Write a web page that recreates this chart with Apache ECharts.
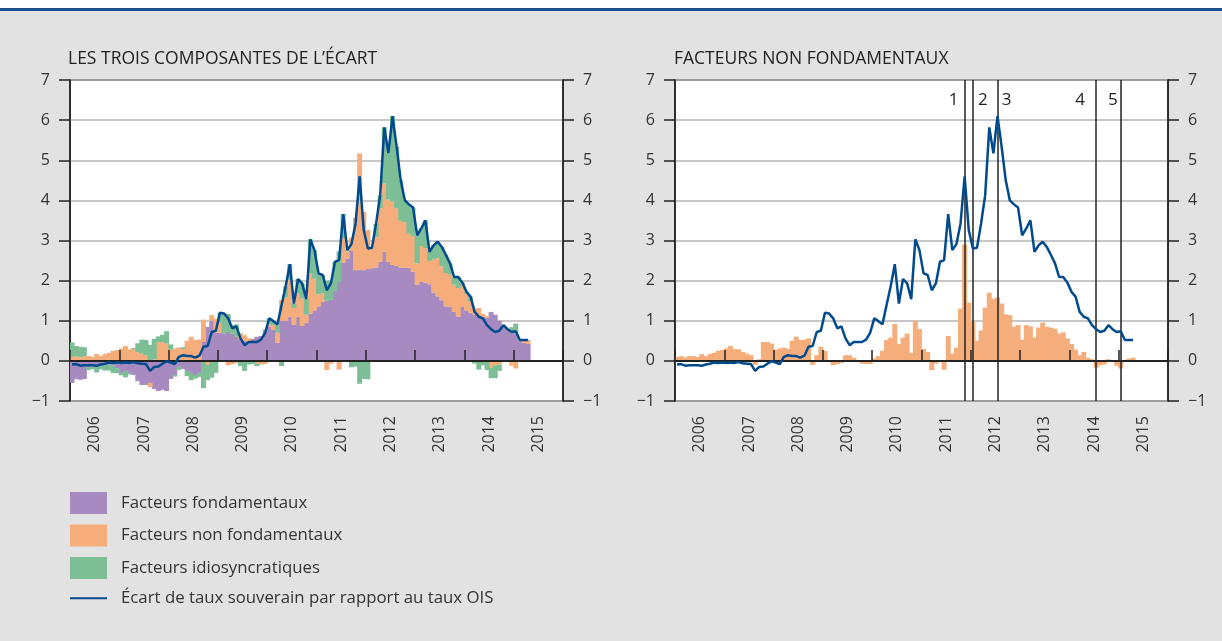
<!DOCTYPE html>
<html>
<head>
<meta charset="utf-8">
<script src="https://cdn.jsdelivr.net/npm/echarts@6/dist/echarts.min.js"></script>
<style>
  html, body { margin: 0; padding: 0; background: #fff; }
  #chart { width: 1222px; height: 641px; }
</style>
</head>
<body>
<div id="chart"></div>
<script>
// annees affichees sur l'axe horizontal (une categorie par mois)
const years = ['2006', '2007', '2008', '2009', '2010', '2011', '2012', '2013', '2014', '2015']
const months = []
years.forEach(y => {
  for (let m = 1; m <= 12; m++) months.push(y + '-' + String(m).padStart(2, '0'))
})

// janv. 2006 - avr. 2015, en points de pourcentage
const fundamental = [
  -0.55, -0.45, -0.47, -0.45, -0.15, -0.13, -0.15, -0.12, -0.1, -0.1, -0.12, -0.18,
  -0.3, -0.25, -0.3, -0.35, -0.5, -0.6, -0.6, -0.55, -0.7, -0.75, -0.72, -0.75,
  -0.45, -0.35, -0.15, -0.2, -0.25, -0.3, -0.35, -0.3, 0.47, 0.85, 1.0, 0.7,
  0.7, 0.68, 0.72, 0.68, 0.6, 0.55, 0.5, 0.48, 0.55, 0.6, 0.62, 0.72,
  0.85, 0.77, 0.45, 1.0, 1.0, 1.1, 0.9, 1.1, 0.87, 0.95, 1.18, 1.26,
  1.36, 1.47, 1.5, 1.52, 1.75, 1.97, 2.44, 2.55, 2.74, 2.26, 2.27, 2.26,
  2.29, 2.31, 2.33, 2.47, 2.72, 2.47, 2.39, 2.37, 2.33, 2.32, 2.32, 2.22,
  1.9, 1.97, 1.95, 1.91, 1.7, 1.61, 1.51, 1.36, 1.35, 1.22, 1.1, 1.36,
  1.26, 1.2, 1.15, 1.1, 1.1, 1.08, 1.22, 1.15, 1.0, 0.85, 0.8, 0.7,
  0.68, 0.5, 0.45, 0.42
]
const nonFundamental = [
  0.1, 0.12, 0.09, 0.12, 0.12, 0.1, 0.17, 0.12, 0.17, 0.2, 0.25, 0.27,
  0.31, 0.37, 0.29, 0.29, 0.22, 0.18, 0.14, -0.1, 0.04, 0.47, 0.47, 0.43,
  0.28, 0.31, 0.33, 0.3, 0.5, 0.6, 0.52, 0.53, 0.56, -0.1, 0.14, 0.35,
  0.25, 0.0, -0.11, -0.08, -0.05, 0.14, 0.14, 0.08, -0.03, -0.07, -0.08, -0.08,
  0.06, 0.12, 0.25, 0.52, 0.58, 0.92, 0.42, 0.58, 0.68, 0.2, 1.0, 0.79,
  0.3, 0.22, -0.23, -0.07, 0.0, -0.22, 0.62, 0.18, 0.33, 1.3, 2.9, 1.45,
  0.97, 0.5, 0.76, 1.33, 1.7, 1.55, 1.58, 1.43, 1.16, 1.14, 0.85, 0.89,
  0.53, 0.89, 0.86, 0.58, 0.83, 0.95, 0.85, 0.83, 0.8, 0.68, 0.71, 0.56,
  0.42, 0.28, 0.14, 0.22, 0.07, 0.04, -0.17, -0.11, -0.09, 0.04, 0.0, -0.12,
  -0.19, 0.0, 0.06, 0.08
]
const idiosyncratic = [
  0.36, 0.25, 0.26, 0.22, -0.08, -0.08, -0.14, -0.09, -0.14, -0.14, -0.18, -0.13,
  -0.06, -0.16, -0.04, 0.03, 0.22, 0.35, 0.38, 0.4, 0.51, 0.14, 0.18, 0.31,
  0.13, -0.04, -0.08, 0.04, -0.13, -0.18, -0.09, -0.1, -0.68, -0.38, -0.42, -0.3,
  0.25, 0.5, 0.45, 0.21, 0.31, -0.13, -0.25, -0.09, -0.05, -0.06, -0.01, 0.06,
  0.15, 0.1, 0.21, -0.13, 0.28, 0.39, 0.11, 0.36, 0.38, 0.39, 0.85, 0.71,
  0.52, 0.45, 0.49, 0.48, 0.72, 0.76, 0.6, 0.03, -0.16, -0.14, -0.57, -0.45,
  -0.46, 0.01, 0.33, 0.33, 1.4, 1.15, 2.13, 1.54, 1.01, 0.54, 0.73, 0.71,
  0.7, 0.44, 0.69, 0.23, 0.35, 0.41, 0.48, 0.45, 0.28, 0.19, 0.28, 0.03,
  0.04, 0.12, -0.07, -0.22, -0.11, -0.23, -0.26, -0.32, -0.16, 0.0, 0.0, 0.14,
  0.25, 0.02, 0.01, 0.02
]
const spread = [
  -0.09, -0.08, -0.12, -0.11, -0.11, -0.11, -0.12, -0.09, -0.07, -0.04, -0.05, -0.04,
  -0.05, -0.04, -0.05, -0.03, -0.06, -0.07, -0.08, -0.25, -0.15, -0.14, -0.07, -0.01,
  -0.04, -0.08, 0.1, 0.14, 0.12, 0.12, 0.08, 0.13, 0.35, 0.37, 0.72, 0.75,
  1.2, 1.18, 1.06, 0.81, 0.86, 0.56, 0.39, 0.47, 0.47, 0.47, 0.53, 0.7,
  1.06, 0.99, 0.91, 1.39, 1.86, 2.41, 1.43, 2.04, 1.93, 1.54, 3.03, 2.76,
  2.18, 2.14, 1.76, 1.93, 2.47, 2.51, 3.66, 2.76, 2.91, 3.42, 4.6, 3.26,
  2.8, 2.82, 3.42, 4.13, 5.82, 5.17, 6.1, 5.34, 4.5, 4.0, 3.9, 3.82,
  3.13, 3.3, 3.5, 2.72, 2.88, 2.97, 2.84, 2.64, 2.43, 2.09, 2.09, 1.95,
  1.72, 1.6, 1.22, 1.1, 1.06, 0.89, 0.79, 0.72, 0.75, 0.89, 0.79, 0.72,
  0.74, 0.52, 0.52, 0.52
]

// evenements reperes dans le graphique de droite
const eventMonths = ['2011-11', '2012-01', '2012-07', '2014-07', '2015-01']
const eventLabels = ['1', '2', '3', '4', '5']

const FONT = 'Open Sans'
const TXT = '#333'
const C_FUND = '#a78bc0'
const C_NONF = '#f5ae7b'
const C_IDIO = '#7dbe96'
const C_LINE = '#004a8d'
const NAMES = [
  'Facteurs fondamentaux',
  'Facteurs non fondamentaux',
  'Facteurs idiosyncratiques',
  'Écart de taux souverain par rapport au taux OIS'
]

const grids = [
  { left: 70, right: 659, top: 80, bottom: 240 },
  { left: 675, right: 54, top: 80, bottom: 240 }
]

// axe des mois : trait du zero et reperes d'annee au-dessus des barres
function monthAxis(gridIndex) {
  return {
    type: 'category',
    gridIndex,
    data: months,
    z: 4,
    axisLine: { show: true, onZero: true, lineStyle: { color: '#222', width: 2 } },
    axisTick: {
      show: true,
      inside: true,
      length: 11,
      alignWithLabel: false,
      interval: idx => idx % 12 === 0,
      lineStyle: { color: '#222', width: 1.5 }
    },
    axisLabel: { show: false, interval: 0 },
    splitLine: { show: false }
  }
}
function yearAxis(gridIndex) {
  return {
    type: 'category',
    gridIndex,
    position: 'bottom',
    data: years,
    axisLine: { show: false, onZero: false },
    axisTick: { show: false },
    axisLabel: { rotate: 90, margin: 15, fontSize: 16, color: TXT, fontFamily: FONT },
    splitLine: { show: false }
  }
}
function valueAxis(gridIndex, side) {
  return {
    type: 'value',
    gridIndex,
    position: side,
    min: -1,
    max: 7,
    interval: 1,
    axisLine: { show: true, onZero: false, lineStyle: { color: '#222', width: 1.5 } },
    axisTick: { show: true, length: 11, lineStyle: { color: '#222', width: 1.5 } },
    axisLabel: {
      margin: 20, fontSize: 16, color: TXT, fontFamily: FONT,
      formatter: v => String(v).replace('-', '\u2212')
    },
    splitLine: { show: side === 'left', lineStyle: { color: '#b4b4b4', width: 1.5 } }
  }
}

// barres mensuelles jointives : un peu plus larges que la bande pour eviter les jours blancs
function bar(name, color, extra) {
  return Object.assign({
    type: 'bar',
    name,
    barWidth: 5,
    barGap: '-100%',
    silent: true,
    animation: false,
    itemStyle: { color }
  }, extra)
}
function line(extra) {
  return Object.assign({
    type: 'line',
    name: NAMES[3],
    showSymbol: false,
    symbol: 'none',
    silent: true,
    animation: false,
    lineStyle: { color: C_LINE, width: 2.5 },
    itemStyle: { color: C_LINE },
    z: 5
  }, extra)
}

const chart = echarts.init(document.getElementById('chart'))
chart.setOption({
  backgroundColor: '#e2e2e2',
  textStyle: { fontFamily: FONT },
  graphic: [
    { type: 'rect', left: 0, top: 0, shape: { width: 1222, height: 8 }, style: { fill: '#fff' } },
    { type: 'rect', left: 0, top: 8, shape: { width: 1222, height: 3 }, style: { fill: '#1d4f91' } }
  ],
  title: [
    { text: 'LES TROIS COMPOSANTES DE L\u2019ÉCART', left: 63, top: 45, textStyle: { fontSize: 17.5, fontWeight: 'normal', color: '#222', fontFamily: FONT } },
    { text: 'FACTEURS NON FONDAMENTAUX', left: 669, top: 45, textStyle: { fontSize: 17.5, fontWeight: 'normal', color: '#222', fontFamily: FONT } }
  ],
  legend: {
    orient: 'vertical',
    left: 69,
    top: 492,
    padding: 0,
    itemWidth: 37,
    itemHeight: 22,
    itemGap: 10.5,
    selectedMode: false,
    textStyle: { fontSize: 16.8, color: TXT, fontFamily: FONT, padding: [0, 0, 0, 9] },
    data: [
      { name: NAMES[0], icon: 'rect' },
      { name: NAMES[1], icon: 'rect' },
      { name: NAMES[2], icon: 'rect' },
      { name: NAMES[3], itemStyle: { opacity: 0 } }
    ]
  },
  grid: grids.map(g => Object.assign({ show: true, backgroundColor: '#fff', borderColor: '#222', borderWidth: 1.5 }, g)),
  xAxis: [monthAxis(0), yearAxis(0), monthAxis(1), yearAxis(1)],
  yAxis: [valueAxis(0, 'left'), valueAxis(0, 'right'), valueAxis(1, 'left'), valueAxis(1, 'right')],
  series: [
    bar(NAMES[0], C_FUND, { xAxisIndex: 0, yAxisIndex: 0, stack: 'ecart', data: fundamental }),
    bar(NAMES[1], C_NONF, { xAxisIndex: 0, yAxisIndex: 0, stack: 'ecart', data: nonFundamental }),
    bar(NAMES[2], C_IDIO, { xAxisIndex: 0, yAxisIndex: 0, stack: 'ecart', data: idiosyncratic }),
    line({ xAxisIndex: 0, yAxisIndex: 0, data: spread }),
    bar(NAMES[1], C_NONF, { xAxisIndex: 2, yAxisIndex: 2, data: nonFundamental }),
    line({
      xAxisIndex: 2,
      yAxisIndex: 2,
      data: spread,
      markLine: {
        silent: true,
        symbol: ['none', 'none'],
        label: { show: false },
        lineStyle: { color: '#222', width: 1.5, type: 'solid' },
        data: eventMonths.map(m => ({ xAxis: months.indexOf(m) }))
      },
      markPoint: {
        silent: true,
        symbol: 'circle',
        symbolSize: 1,
        itemStyle: { color: 'rgba(0,0,0,0)' },
        label: { show: true, position: 'inside', fontSize: 17, color: '#222', fontFamily: FONT },
        data: eventMonths.map((m, k) => ({
          coord: [months.indexOf(m), 6.5],
          value: eventLabels[k],
          label: { offset: [[-11, 0], [10, 0], [9, 0], [-16, 0], [-8, 0]][k] }
        }))
      }
    })
  ]
})
</script>
</body>
</html>
